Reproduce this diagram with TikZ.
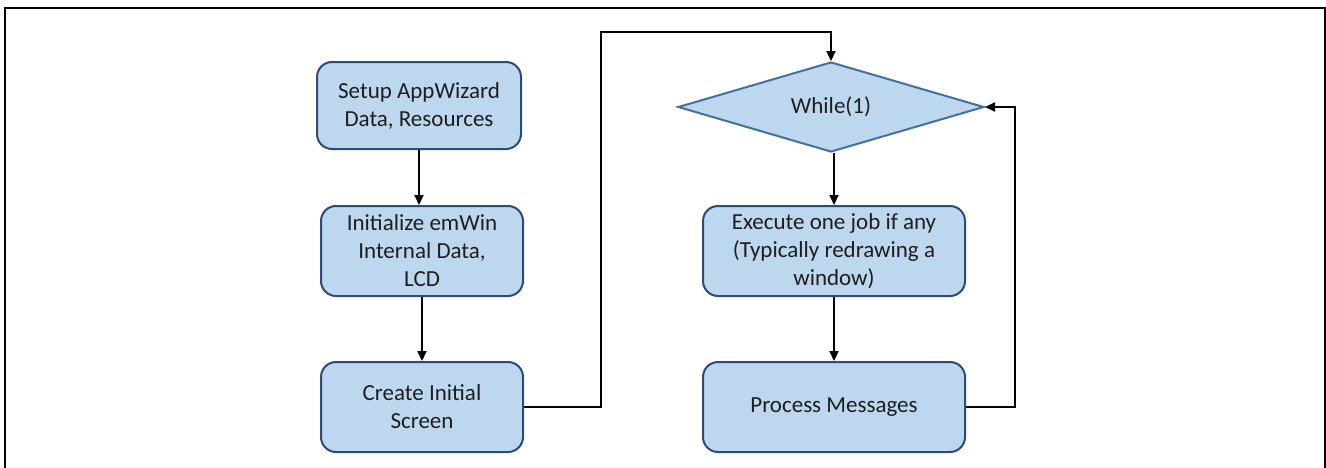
\documentclass[tikz,border=0pt]{standalone}
\usepackage{fontspec}
\setmainfont{Carlito}
\usetikzlibrary{shapes.geometric,arrows.meta}
\definecolor{boxfill}{HTML}{BDD7EE}
\definecolor{boxline}{HTML}{2E4A78}
\definecolor{diamline}{HTML}{41719C}
\definecolor{txt}{HTML}{1E1E1E}
\tikzset{
  stepbox/.style={draw=boxline, line width=2pt, fill=boxfill, rounded corners=15pt,
    align=center, text=txt, inner sep=0pt,
    font=\fontsize{23}{28}\selectfont},
  decision/.style={diamond, draw=diamline, line width=2pt, fill=boxfill, aspect=3.4,
    minimum width=306pt, minimum height=90pt, inner sep=0pt, text=txt,
    font=\fontsize{23}{28}\selectfont},
  arr/.style={draw=black, line width=2pt, -{Triangle[length=10pt,width=9pt]}},
}
\begin{document}
\begin{tikzpicture}[x=1pt,y=-1pt]
\useasboundingbox (0,0) rectangle (1326,467);
\draw[line width=2pt] (5,470) -- (5,7.5) -- (1325,7.5) -- (1325,470);

\node[stepbox, minimum width=204pt, minimum height=87pt] (b1) at (419,105.5) {Setup AppWizard\\Data, Resources};
\node[stepbox, minimum width=202pt, minimum height=90pt] (b2) at (422,251) {Initialize emWin\\Internal Data,\\LCD};
\node[stepbox, minimum width=202pt, minimum height=90pt] (b3) at (422,407) {Create Initial\\Screen};
\node[decision] (d) at (831,107) {While(1)};
\node[stepbox, minimum width=262pt, minimum height=90pt] (b4) at (834,251) {Execute one job if any\\(Typically redrawing a\\window)};
\node[stepbox, minimum width=262pt, minimum height=90pt] (b5) at (834,407) {Process Messages};

\coordinate (c1) at (601,32);
\coordinate (c2) at (1015,107);

\draw[arr] (b1.south) -- (b1.south |- b2.north);
\draw[arr] (b2.south) -- (b2.south |- b3.north);
\draw[arr] (b3.east) -| (c1) -| (d.north);
\draw[arr] (d.south -| b4.north) -- (b4.north);
\draw[arr] (b4.south) -- (b5.north);
\draw[arr] (b5.east) -| (c2) -- (d.east);
\end{tikzpicture}
\end{document}
